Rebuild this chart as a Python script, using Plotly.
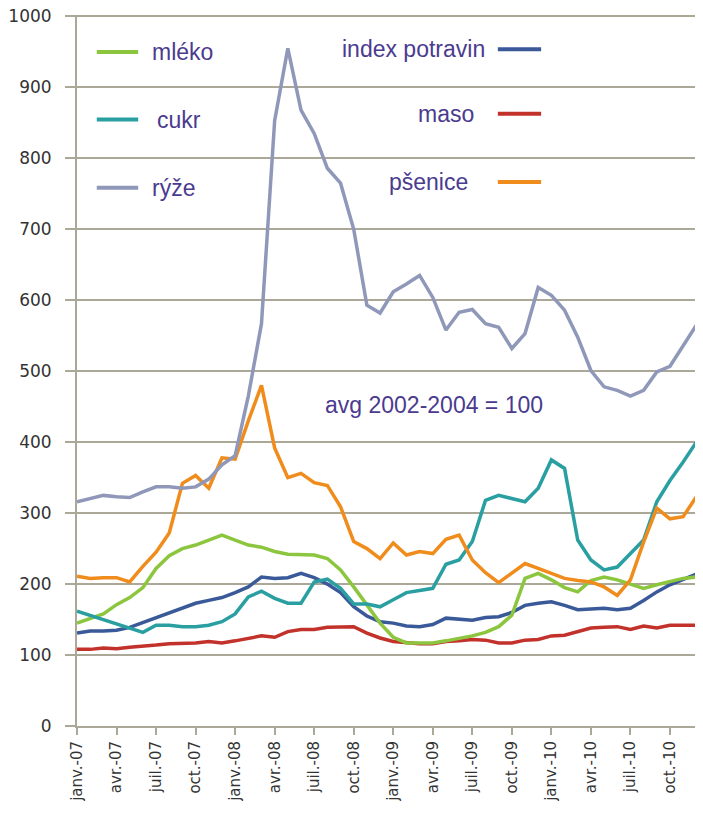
import plotly.graph_objects as go

# month labels (French short form, as on the axis)
month_names = ["janv.", "févr.", "mars", "avr.", "mai", "juin",
               "juil.", "août", "sept.", "oct.", "nov.", "déc."]
months = [f"{m}-{y:02d}" for y in (7, 8, 9, 10) for m in month_names]
tick_labels = months[::3]

# -------------------------------
# Price indices (avg 2002-2004 = 100)
# -------------------------------
index_potravin = [131, 134, 134, 135, 139, 146, 153, 160, 167, 173, 177, 181,
                  188, 196, 210, 208, 209, 215, 209, 200, 188, 168, 155, 147,
                  145, 141, 140, 143, 152, 151, 149, 153, 154, 160, 170, 173,
                  175, 170, 164, 165, 166, 164, 166, 177, 189, 199, 206, 214]
maso = [108, 108, 110, 109, 111, 112, 114, 116, 116, 117, 119, 117,
        120, 124, 127, 125, 133, 136, 136, 139, 140, 140, 131, 124,
        119, 117, 116, 116, 119, 120, 122, 121, 117, 117, 121, 122,
        127, 128, 133, 138, 139, 140, 136, 141, 138, 142, 142, 142]
mleko = [145, 152, 158, 171, 181, 195, 222, 240, 250, 255, 262, 269,
         262, 255, 252, 246, 242, 242, 241, 236, 220, 196, 170, 145,
         125, 117, 117, 117, 120, 123, 127, 132, 140, 156, 208, 215,
         206, 195, 189, 205, 210, 206, 200, 194, 199, 203, 208, 210]
cukr = [162, 156, 151, 145, 138, 132, 142, 142, 140, 140, 142, 147,
        158, 182, 190, 180, 173, 173, 203, 207, 194, 172, 172, 168,
        178, 188, 191, 194, 228, 234, 260, 318, 325, 321, 316, 335,
        375, 363, 262, 234, 220, 224, 243, 262, 316, 346, 372, 400]
psenice = [211, 208, 209, 209, 203, 225, 245, 272, 342, 353, 335, 378,
           376, 430, 480, 392, 350, 356, 343, 339, 309, 260, 250, 236,
           258, 241, 246, 243, 263, 269, 234, 216, 202, 215, 229, 222,
           215, 208, 205, 203, 196, 184, 206, 259, 307, 292, 295, 323]
ryze = [316, 320, 325, 323, 322, 330, 337, 337, 335, 337, 348, 368,
        381, 465, 567, 853, 955, 868, 835, 786, 765, 700, 593, 582,
        612, 623, 635, 604, 558, 583, 587, 567, 562, 532, 553, 618,
        607, 586, 548, 501, 478, 473, 465, 473, 499, 507, 535, 565]

series = [
    ("index potravin", index_potravin, "#3a5999"),
    ("maso", maso, "#c2322b"),
    ("mléko", mleko, "#8cc63e"),
    ("cukr", cukr, "#2a9fa2"),
    ("pšenice", psenice, "#f08c1c"),
    ("rýže", ryze, "#8f98b9"),
]

grid_col = "#aca898"
text_col = "#4a3b8f"

fig = go.Figure()
for name, vals, col in series:
    fig.add_trace(go.Scatter(x=months, y=vals, mode="lines", name=name,
                             line=dict(color=col, width=3.5), showlegend=False))

# hand-made legend, like the original
def legend_line(x0, x1, y, col):
    fig.add_shape(type="line", xref="paper", yref="paper", x0=x0, x1=x1, y0=y, y1=y,
                  line=dict(color=col, width=4))

def label(text, x, y, anchor):
    fig.add_annotation(text=text, xref="paper", yref="paper", x=x, y=y,
                       xanchor=anchor, yanchor="middle", showarrow=False,
                       font=dict(family="Liberation Sans, Arial", size=23, color=text_col))

colors = {n: c for n, _, c in series}
# left column
for name, y, tx in [("mléko", 0.948, 0.118), ("cukr", 0.853, 0.126), ("rýže", 0.757, 0.118)]:
    legend_line(0.032, 0.099, y, colors[name])
    label(name, tx, y, "left")
# right column
for name, y, tx in [("index potravin", 0.952, 0.663), ("maso", 0.861, 0.646), ("pšenice", 0.765, 0.636)]:
    legend_line(0.681, 0.751, y, colors[name])
    label(name, tx, y, "right")

label("avg 2002-2004 = 100", 0.398, 0.452, "left")

# page body has an 8px margin, so the figure is kept inside the window
fig.update_layout(
    width=687, height=797,
    margin=dict(l=69, r=0, t=7, b=79),
    plot_bgcolor="white", paper_bgcolor="white",
    xaxis=dict(
        type="category", range=[0, 46.9], automargin=False,
        tickvals=tick_labels, ticktext=tick_labels, tickangle=-90,
        showgrid=False, zeroline=False,
        showline=True, linecolor=grid_col, linewidth=2,
        ticks="outside", ticklen=7, tickwidth=2, tickcolor=grid_col,
        tickfont=dict(family="DejaVu Sans", size=15, color="#333333"),
    ),
    yaxis=dict(
        range=[0, 1002], dtick=100, automargin=False,
        showgrid=True, gridcolor=grid_col, gridwidth=2, zeroline=False,
        showline=True, linecolor=grid_col, linewidth=2,
        ticks="outside", ticklen=10, tickwidth=2, tickcolor=grid_col,
        ticklabelstandoff=10, ticklabeloverflow="allow",
        tickfont=dict(family="DejaVu Sans", size=17, color="#333333"),
    ),
)

fig.write_html("out.html")
